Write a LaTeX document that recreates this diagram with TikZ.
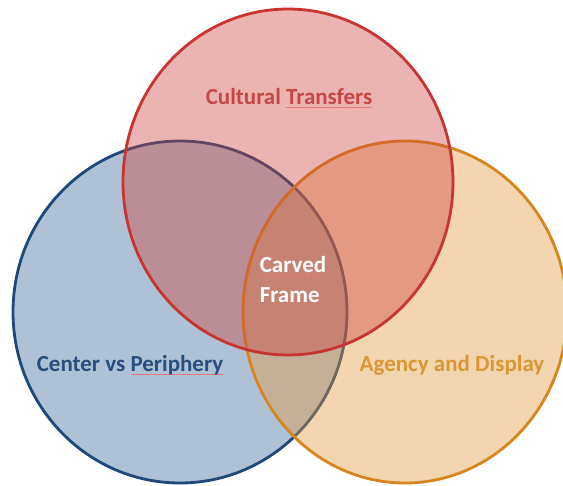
\documentclass[tikz,border=0pt]{standalone}
\usepackage{fontspec}
\setmainfont{Carlito}
\definecolor{redline}{RGB}{200,52,48}
\definecolor{redfill}{RGB}{205,65,60}
\definecolor{redtext}{RGB}{196,72,68}
\definecolor{blueline}{RGB}{30,72,122}
\definecolor{bluefill}{RGB}{55,100,150}
\definecolor{bluetext}{RGB}{40,78,125}
\definecolor{orangeline}{RGB}{214,134,28}
\definecolor{orangefill}{RGB}{225,150,55}
\definecolor{orangetext}{RGB}{218,150,52}
\definecolor{spell}{RGB}{228,120,120}
\newcommand\spellmark[1]{\setbox0\hbox{#1}\rlap{\textcolor{spell}{\rule[-3pt]{\wd0}{0.5pt}}}\box0}
\begin{document}
\begin{tikzpicture}[x=1pt,y=-1pt,
  setcirc/.style={line width=2.8pt, fill opacity=0.4},
  lbl/.style={font=\bfseries\fontsize{23}{30}\selectfont, inner sep=0pt, anchor=base}]
\useasboundingbox (0,0) rectangle (563,486);
\path[setcirc, draw=blueline, fill=bluefill] (180,312) ellipse [x radius=167, y radius=171];
\path[setcirc, draw=orangeline, fill=orangefill] (405,312) ellipse [x radius=162, y radius=171];
\path[setcirc, draw=redline, fill=redfill] (288,182) ellipse [x radius=165, y radius=173];
\node[lbl, text=redtext] (ct) at (289,105) {Cultural \spellmark{Transfers}};
\node[lbl, text=bluetext] (cp) at (130,372) {Center vs \spellmark{Periphery}};
\node[lbl, text=orangetext] (ad) at (452,372) {Agency and Display};
\node[lbl, text=white, align=left, anchor=center] (cf) at (293,280) {\spellmark{Carved}\\Frame};
\end{tikzpicture}
\end{document}
